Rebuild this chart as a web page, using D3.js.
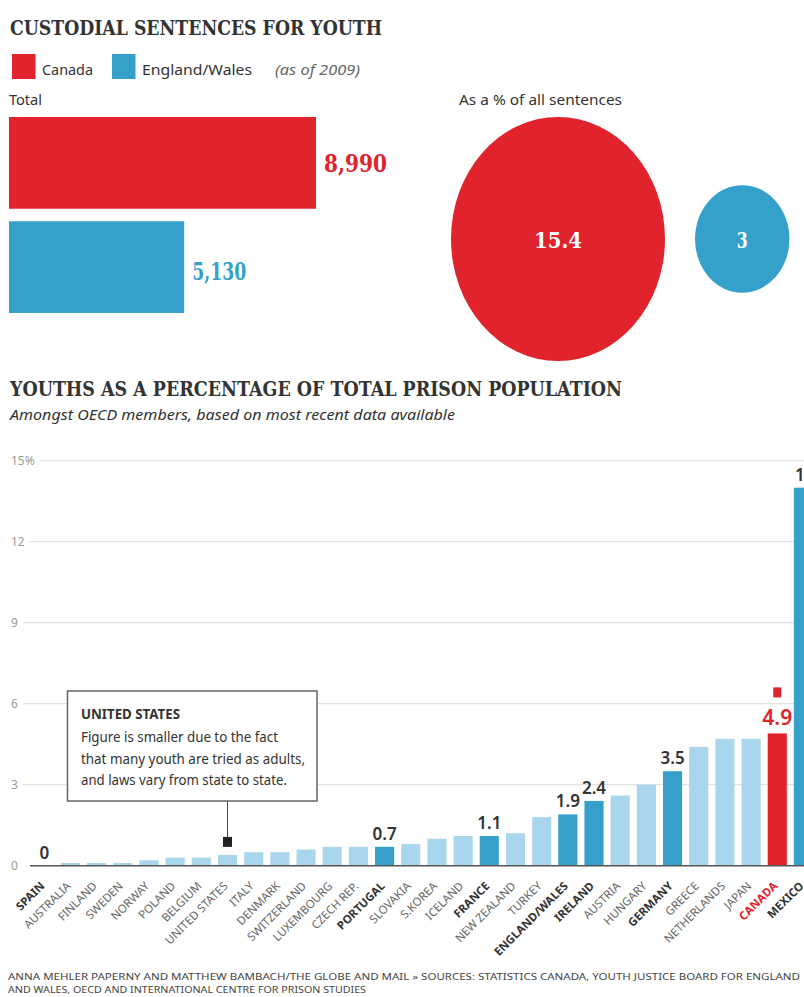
<!DOCTYPE html>
<html>
<head>
<meta charset="utf-8">
<script src="https://cdn.jsdelivr.net/npm/d3@7"></script>
<style>
  html, body { margin: 0; padding: 0; background: #fff; }
  svg { display: block; }
  .serif { font-family: "DejaVu Serif", "Liberation Serif", serif; font-weight: bold; }
  .sans { font-family: "Noto Sans", "Open Sans", sans-serif; }
</style>
</head>
<body>
<svg id="chart" width="804" height="997"></svg>
<script>
// ---- Custodial sentences (as of 2009) ----
const sentenceRegions = ["Canada", "England/Wales"];
const sentenceTotals = [8990, 5130];
const sentenceShares = [15.4, 3];

// ---- Youths as a % of total prison population, OECD ----
const countries = [
  "SPAIN", "AUSTRALIA", "FINLAND", "SWEDEN", "NORWAY", "POLAND", "BELGIUM",
  "UNITED STATES", "ITALY", "DENMARK", "SWITZERLAND", "LUXEMBOURG", "CZECH REP.",
  "PORTUGAL", "SLOVAKIA", "S.KOREA", "ICELAND", "FRANCE", "NEW ZEALAND", "TURKEY",
  "ENGLAND/WALES", "IRELAND", "AUSTRIA", "HUNGARY", "GERMANY", "GREECE",
  "NETHERLANDS", "JAPAN", "CANADA", "MEXICO"
];
const youthShare = [
  0, 0.1, 0.1, 0.1, 0.2, 0.3, 0.3,
  0.4, 0.5, 0.5, 0.6, 0.7, 0.7,
  0.7, 0.8, 1.0, 1.1, 1.1, 1.2, 1.8,
  1.9, 2.4, 2.6, 3.0, 3.5, 4.4,
  4.7, 4.7, 4.9, 14.0
];
const highlighted = ["SPAIN", "PORTUGAL", "FRANCE", "ENGLAND/WALES", "IRELAND", "GERMANY", "CANADA", "MEXICO"];
const yTicks = [0, 3, 6, 9, 12, 15];
const noteLines = [
  "Figure is smaller due to the fact",
  "that many youth are tried as adults,",
  "and laws vary from state to state."
];
const footerLines = [
  "ANNA MEHLER PAPERNY AND MATTHEW BAMBACH/THE GLOBE AND MAIL \u00BB SOURCES: STATISTICS CANADA, YOUTH JUSTICE BOARD FOR ENGLAND",
  "AND WALES, OECD AND INTERNATIONAL CENTRE FOR PRISON STUDIES"
];

const RED = "#e0232d", BLUE = "#35a1cb", LIGHT = "#a9d6ed", INK = "#333";

const svg = d3.select("#chart");
svg.append("rect").attr("width", 804).attr("height", 997).attr("fill", "#fff");

function fit(sel, w) {
  return sel.attr("textLength", w).attr("lengthAdjust", "spacingAndGlyphs");
}

// ---------- Top section ----------
fit(svg.append("text").attr("class", "serif").attr("x", 10).attr("y", 35)
  .attr("font-size", 21).attr("fill", INK).text("CUSTODIAL SENTENCES FOR YOUTH"), 372);

const colorOf = d3.scaleOrdinal(sentenceRegions, [RED, BLUE]);

// legend
const legend = [
  { name: sentenceRegions[0], x: 12, w: 51 },
  { name: sentenceRegions[1], x: 112, w: 110 }
];
legend.forEach(l => {
  svg.append("rect").attr("x", l.x).attr("y", 54).attr("width", 23.5).attr("height", 25)
    .attr("fill", colorOf(l.name));
  fit(svg.append("text").attr("class", "sans").attr("x", l.x + 30).attr("y", 75)
    .attr("font-size", 15).attr("fill", INK).text(l.name), l.w);
});
fit(svg.append("text").attr("class", "sans").attr("x", 275).attr("y", 75)
  .attr("font-size", 15).attr("font-style", "italic").attr("fill", "#666").text("(as of 2009)"), 85);

fit(svg.append("text").attr("class", "sans").attr("x", 9).attr("y", 105)
  .attr("font-size", 14).attr("fill", INK).text("Total"), 33);

// horizontal totals
const xTot = d3.scaleLinear().domain([0, 8990]).range([9, 316]);
const yTot = d3.scaleBand().domain(sentenceRegions).range([117, 313]).paddingInner(0.12);
const totalLabelW = [63, 54];
sentenceRegions.forEach((r, i) => {
  svg.append("rect").attr("x", xTot(0)).attr("y", yTot(r))
    .attr("width", xTot(sentenceTotals[i]) - xTot(0)).attr("height", yTot.bandwidth())
    .attr("fill", colorOf(r));
  fit(svg.append("text").attr("class", "serif")
    .attr("x", xTot(sentenceTotals[i]) + 8)
    .attr("y", yTot(r) + yTot.bandwidth() / 2 + 9 + i * 4)
    .attr("font-size", 24).attr("fill", colorOf(r))
    .text(d3.format(",")(sentenceTotals[i])), totalLabelW[i]);
});

// share bubbles (area ~ value)
fit(svg.append("text").attr("class", "sans").attr("x", 459).attr("y", 105)
  .attr("font-size", 15).attr("fill", INK).text("As a % of all sentences"), 163);

const rx = d3.scaleSqrt().domain([0, 15.4]).range([0, 107]);
const ry = d3.scaleSqrt().domain([0, 15.4]).range([0, 122]);
const bubbleY = 239;
let cursor = 451;
const bubbleLabelW = [48, 11];
sentenceRegions.forEach((r, i) => {
  const v = sentenceShares[i];
  const cx = cursor + rx(v);
  svg.append("ellipse").attr("cx", cx).attr("cy", bubbleY)
    .attr("rx", rx(v)).attr("ry", ry(v)).attr("fill", colorOf(r));
  fit(svg.append("text").attr("class", "serif").attr("x", cx).attr("y", bubbleY + 9)
    .attr("text-anchor", "middle").attr("font-size", 23).attr("fill", "#fff")
    .text(String(v)), bubbleLabelW[i]);
  cursor = cx + rx(v) + 30;
});

// ---------- Bottom section ----------
fit(svg.append("text").attr("class", "serif").attr("x", 10).attr("y", 396)
  .attr("font-size", 21).attr("fill", INK).text("YOUTHS AS A PERCENTAGE OF TOTAL PRISON POPULATION"), 612);
fit(svg.append("text").attr("class", "sans").attr("x", 10).attr("y", 420)
  .attr("font-size", 15).attr("font-style", "italic").attr("fill", INK)
  .text("Amongst OECD members, based on most recent data available"), 445);

const y = d3.scaleLinear().domain([0, 15]).range([865.7, 460.7]);
const x = d3.scaleBand().domain(countries).range([34.7, 813]).paddingInner(0.27).paddingOuter(0);

// grid + tick labels
const grid = svg.append("g");
yTicks.forEach(t => {
  const lab = grid.append("text").attr("class", "sans").attr("x", 11).attr("y", y(t) + 4)
    .attr("font-size", 12).attr("fill", "#9a9a9a").text(t === 15 ? "15%" : String(t));
  const end = 11 + lab.node().getComputedTextLength() + 5;
  if (t !== 0) {
    grid.append("line").attr("x1", end).attr("x2", 804).attr("y1", y(t)).attr("y2", y(t))
      .attr("stroke", "#dcdcdc").attr("stroke-width", 1);
  }
});

// bars
const barColor = c => c === "CANADA" ? RED : (highlighted.includes(c) ? BLUE : LIGHT);
svg.append("g").selectAll("rect").data(countries).join("rect")
  .attr("x", d => x(d))
  .attr("y", (d, i) => y(youthShare[i]))
  .attr("width", x.bandwidth())
  .attr("height", (d, i) => y(0) - y(youthShare[i]))
  .attr("fill", barColor);

// baseline
svg.append("line").attr("x1", 30).attr("x2", 804).attr("y1", y(0)).attr("y2", y(0))
  .attr("stroke", "#555").attr("stroke-width", 1.6);

// value labels on highlighted bars
countries.forEach((c, i) => {
  if (!highlighted.includes(c)) return;
  const isCan = c === "CANADA";
  const isLast = i === countries.length - 1;
  svg.append("text").attr("class", "sans")
    .attr("x", isLast ? x(c) + 1 : x(c) + x.bandwidth() / 2)
    .attr("y", y(youthShare[i]) - (isCan ? 8 : 7))
    .attr("text-anchor", isLast ? "start" : "middle")
    .attr("font-size", isCan ? 21 : 17).attr("font-weight", 600)
    .attr("fill", isCan ? RED : INK)
    .text(String(youthShare[i]));
  if (isCan) {
    svg.append("rect").attr("x", x(c) + x.bandwidth() / 2 - 4)
      .attr("y", y(youthShare[i]) - 8 - 38).attr("width", 8).attr("height", 10)
      .attr("fill", RED);
  }
});

// country labels
const xl = svg.append("g");
countries.forEach(c => {
  const hi = highlighted.includes(c);
  const cx = x(c) + x.bandwidth() / 2 + 1;
  xl.append("text").attr("class", "sans")
    .attr("transform", `translate(${cx},${y(0) + 21}) rotate(-45)`)
    .attr("text-anchor", "end")
    .attr("font-size", 11.5)
    .attr("font-weight", hi ? 700 : 400)
    .attr("fill", c === "CANADA" ? RED : (hi ? INK : "#666"))
    .text(c);
});

// United States note
const us = "UNITED STATES";
const usX = x(us) + x.bandwidth() / 2;
const usV = youthShare[countries.indexOf(us)];
const markerBottom = y(usV) - 8;
svg.append("line").attr("x1", usX).attr("x2", usX).attr("y1", 801).attr("y2", markerBottom - 10)
  .attr("stroke", "#444").attr("stroke-width", 1);
svg.append("rect").attr("x", usX - 4.5).attr("y", markerBottom - 10).attr("width", 9).attr("height", 10)
  .attr("fill", "#222");
svg.append("rect").attr("x", 67.5).attr("y", 691).attr("width", 249.5).attr("height", 110)
  .attr("fill", "#fff").attr("stroke", "#666").attr("stroke-width", 1.5);
fit(svg.append("text").attr("class", "sans").attr("x", 81).attr("y", 719)
  .attr("font-size", 14).attr("font-weight", 700).attr("fill", INK).text("UNITED STATES"), 99);
const noteW = [197, 224, 206];
noteLines.forEach((l, i) => {
  fit(svg.append("text").attr("class", "sans").attr("x", 81).attr("y", 742 + i * 21.6)
    .attr("font-size", 14.5).attr("fill", INK).text(l), noteW[i]);
});

// footer credits and sources
const footerW = [792, 358];
footerLines.forEach((l, i) => {
  fit(svg.append("text").attr("class", "sans").attr("x", 8).attr("y", 980 + i * 12.5)
    .attr("font-size", 9.5).attr("fill", "#444").text(l), footerW[i]);
});
</script>
</body>
</html>
